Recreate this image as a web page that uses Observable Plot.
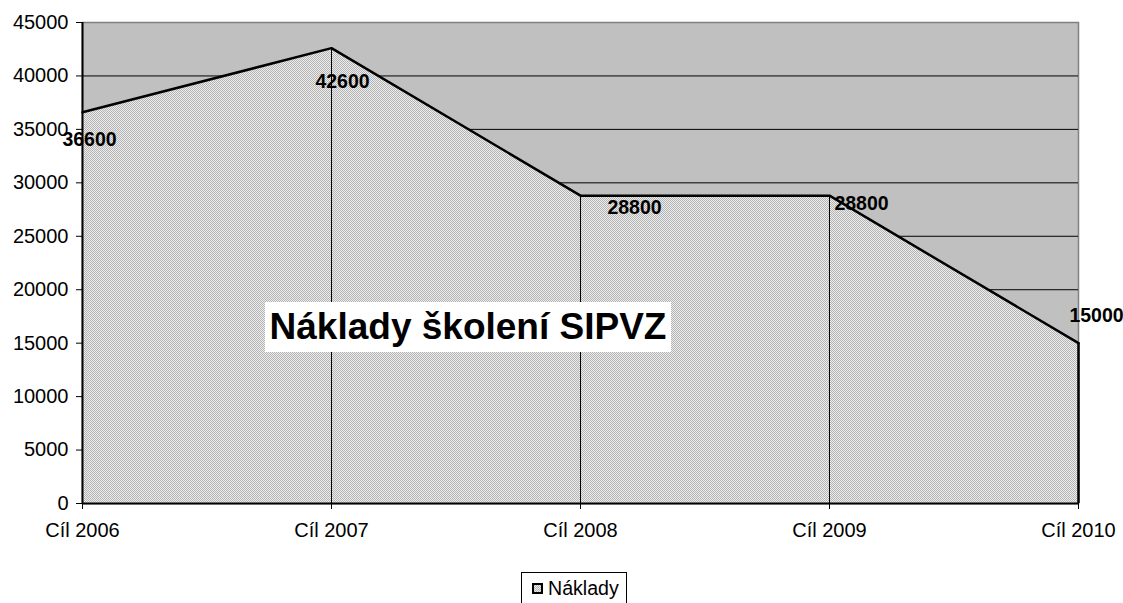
<!DOCTYPE html>
<html>
<head>
<meta charset="utf-8">
<script src="https://cdn.jsdelivr.net/npm/d3@7"></script>
<script src="https://cdn.jsdelivr.net/npm/@observablehq/plot@0.6"></script>
<style>
  html, body { margin: 0; padding: 0; background: #fff; }
  body { width: 1123px; height: 603px; overflow: hidden; position: relative; font-family: "Liberation Sans", Arial, sans-serif; }
  #chart { position: absolute; left: 0; top: 0; }
  #title { position: absolute; left: 265px; top: 302px; width: 406px; height: 50px; background: #fff;
           font: bold 37px "Liberation Sans", Arial, sans-serif; line-height: 50px; text-align: center; color: #000; white-space: nowrap; }
  #legend { position: absolute; left: 521px; top: 572px; width: 106px; height: 40px; border: 1px solid #000; background: #fff; box-sizing: border-box; }
  #legend .sw { position: absolute; left: 10px; top: 10px; width: 11px; height: 11px; box-sizing: border-box; border: 2px solid #000;
                background-image: url("data:image/svg+xml;utf8,<svg xmlns='http://www.w3.org/2000/svg' width='2' height='2'><rect width='2' height='2' fill='%23ececec'/><rect width='1' height='1' fill='%23b4b4b4'/><rect x='1' y='1' width='1' height='1' fill='%23b4b4b4'/></svg>"); }
  #legend .lb { position: absolute; left: 26px; top: 4px; font: 19.6px "Liberation Sans", Arial, sans-serif; color: #000; }
</style>
</head>
<body>
<div id="chart"></div>
<div id="title">Náklady školení SIPVZ</div>
<div id="legend"><div class="sw"></div><div class="lb">Náklady</div></div>
<script>
const categories = ["Cíl 2006", "Cíl 2007", "Cíl 2008", "Cíl 2009", "Cíl 2010"];
const naklady = [36600, 42600, 28800, 28800, 15000];
const yTicks = [0, 5000, 10000, 15000, 20000, 25000, 30000, 35000, 40000, 45000];
const seriesName = "Náklady";

const data = categories.map((c, i) => ({cat: c, value: naklady[i], i}));
const gridTicks = yTicks.filter(t => t > 0 && t < 45000);

// label offsets (Excel-like placement), in pixels
const labelOffsets = [[7, 27], [11, 34], [54, 12], [32, 8], [18, -27]];

const font = "Liberation Sans, Arial, sans-serif";

const chart = Plot.plot({
  width: 1123,
  height: 603,
  marginLeft: 82,
  marginRight: 45,
  marginTop: 22,
  marginBottom: 100,
  style: {fontFamily: font, fontSize: "20px", color: "#000", background: "transparent"},
  x: {type: "point", domain: categories, padding: 0, label: null},
  y: {domain: [0, 45000], ticks: yTicks, label: null},
  marks: [
    Plot.frame({fill: "#c0c0c0", stroke: "#808080", strokeWidth: 1.5}),
    Plot.ruleY(gridTicks, {stroke: "#000", strokeWidth: 1}),
    Plot.areaY(data, {x: "cat", y: "value", fill: "url(#dotpat)", curve: "linear"}),
    Plot.ruleX(data.slice(1, -1), {x: "cat", y1: 0, y2: "value", stroke: "#000", strokeWidth: 1}),
    Plot.line(data, {x: "cat", y: "value", stroke: "#000", strokeWidth: 2.5}),
    Plot.ruleX(data.slice(-1), {x: "cat", y1: 0, y2: "value", stroke: "#000", strokeWidth: 2.5}),
    Plot.ruleX([categories[0]], {stroke: "#000", strokeWidth: 2}),
    Plot.ruleY([0], {stroke: "#000", strokeWidth: 2}),
    Plot.axisY({ticks: yTicks, tickFormat: d => String(d), tickSize: 6, tickPadding: 8, fontSize: 20, label: null}),
    Plot.axisX({tickSize: 6, tickPadding: 13, fontSize: 20, label: null}),
    ...data.map((d, i) => Plot.text([d], {
      x: "cat", y: "value", text: v => String(v.value),
      dx: labelOffsets[i][0], dy: labelOffsets[i][1],
      fontWeight: "bold", fontSize: 19.5, fill: "#000"
    }))
  ]
});

// pattern definition
const ns = "http://www.w3.org/2000/svg";
const defs = document.createElementNS(ns, "defs");
defs.innerHTML = `<pattern id="dotpat" width="2" height="2" patternUnits="userSpaceOnUse">
  <rect width="2" height="2" fill="#ececec"/>
  <rect width="1" height="1" fill="#b4b4b4"/>
  <rect x="1" y="1" width="1" height="1" fill="#b4b4b4"/>
</pattern>`;
chart.insertBefore(defs, chart.firstChild);
document.getElementById("chart").appendChild(chart);
</script>
</body>
</html>
